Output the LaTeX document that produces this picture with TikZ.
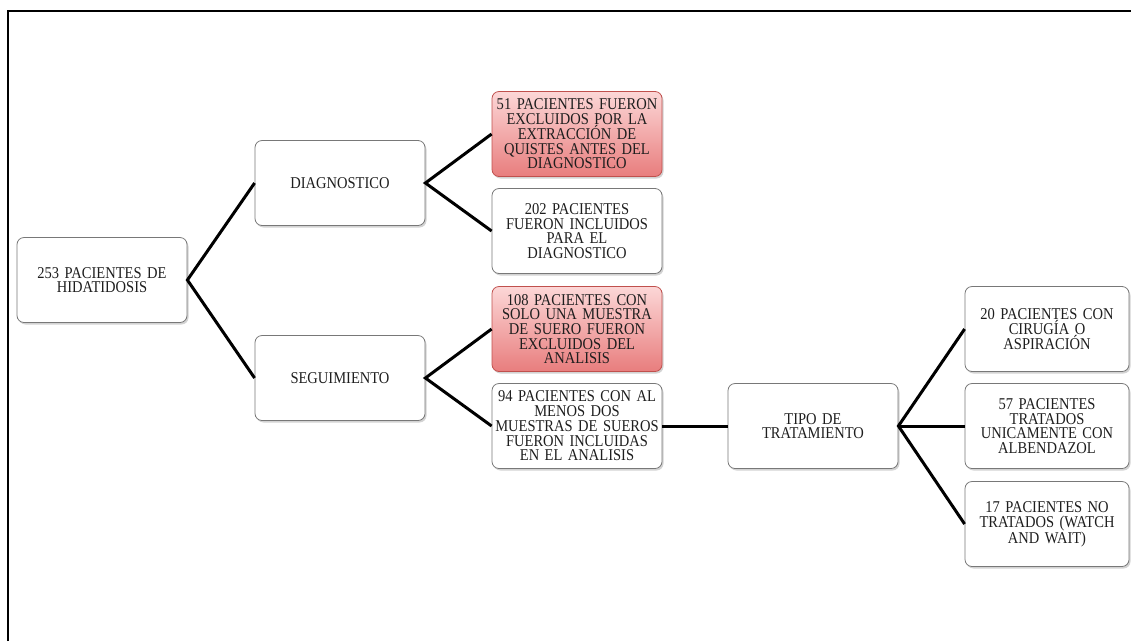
\documentclass[tikz,border=0pt]{standalone}
\usepackage{fontspec}
\setmainfont{Liberation Serif}[FakeStretch=0.88]
\usetikzlibrary{shadows}
\definecolor{boxgray}{RGB}{120,120,120}
\definecolor{redtop}{RGB}{252,215,215}
\definecolor{redbot}{RGB}{232,125,125}
\definecolor{redline}{RGB}{192,80,77}
\definecolor{txt}{RGB}{30,30,30}
\begin{document}
\begin{tikzpicture}[x=1pt,y=-1pt,
  card/.style={draw=boxgray, line width=0.8pt, fill=white, rounded corners=7pt,
    minimum width=170pt, minimum height=85pt, text width=168pt, align=center,
    inner sep=1pt, text=txt, font=\fontsize{16.5}{14.7}\selectfont,
    drop shadow={shadow xshift=1.5pt, shadow yshift=-2pt, opacity=0.35}},
  redcard/.style={card, draw=redline, top color=redtop, bottom color=redbot},
  link/.style={line width=3pt, black}]
\useasboundingbox (0,0) rectangle (1131,641);
\draw[line width=2pt] (8,641) -- (8,11) -- (1131,11);

\node[card] (root) at (102,280) {253 PACIENTES DE\\HIDATIDOSIS};
\node[card] (diag) at (340,183) {DIAGNOSTICO};
\node[card] (seg) at (340,378) {SEGUIMIENTO};
\node[redcard] (exc1) at (577,134) {51 PACIENTES FUERON\\EXCLUIDOS POR LA\\EXTRACCIÓN DE\\QUISTES ANTES DEL\\DIAGNOSTICO};
\node[card] (inc1) at (577,231) {202 PACIENTES\\FUERON INCLUIDOS\\PARA EL\\DIAGNOSTICO};
\node[redcard] (exc2) at (577,329) {108 PACIENTES CON\\SOLO UNA MUESTRA\\DE SUERO FUERON\\EXCLUIDOS DEL\\ANALISIS};
\node[card] (inc2) at (577,426) {94 PACIENTES CON AL\\MENOS DOS\\MUESTRAS DE SUEROS\\FUERON INCLUIDAS\\EN EL ANALISIS};
\node[card] (tipo) at (813,426) {TIPO DE\\TRATAMIENTO};
\node[card, minimum width=164pt, text width=162pt] (cir) at (1047,329) {20 PACIENTES CON\\CIRUGÍA O\\ASPIRACIÓN};
\node[card, minimum width=164pt, text width=162pt] (alb) at (1047,426) {57 PACIENTES\\TRATADOS\\UNICAMENTE CON\\ALBENDAZOL};
\node[card, minimum width=164pt, text width=162pt] (nt) at (1047,524) {17 PACIENTES NO\\TRATADOS (WATCH\\AND WAIT)};

\draw[link] (diag.west) -- (root.east) -- (seg.west);
\draw[link] (exc1.west) -- (diag.east) -- (inc1.west);
\draw[link] (exc2.west) -- (seg.east) -- (inc2.west);
\draw[link] (inc2.east) -- (tipo.west);
\draw[link] (cir.west) -- (tipo.east) -- (nt.west);
\draw[link] (tipo.east) -- (alb.west);
\end{tikzpicture}
\end{document}
